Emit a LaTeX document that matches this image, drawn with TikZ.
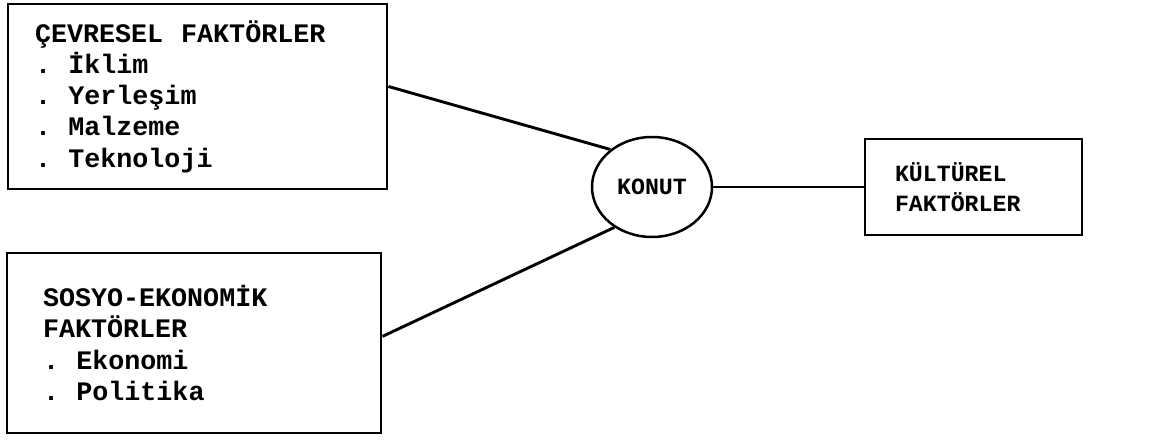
\documentclass[tikz,border=0pt]{standalone}
\usepackage{fontspec}
\newfontfamily\courier{Liberation Mono}
\newcommand\bigfont{\courier\bfseries\fontsize{19.3}{22.6}\selectfont}
\newcommand\smallfont{\courier\bfseries\fontsize{16.8}{21.6}\selectfont}
\newcommand\wide{\hspace{0.34em}}
\newcommand\itemgap{\hspace{0.15em}}
\usetikzlibrary{shapes.geometric}

\begin{document}
\begin{tikzpicture}[x=1in,y=1in,
  factorbox/.style={draw, line width=2.1pt, rectangle, align=left, inner ysep=0pt},
  bigtext/.style={font=\bigfont},
  smalltext/.style={font=\smallfont},
  link/.style={line width=2.1pt}]
\useasboundingbox (0.0000,0.0000) rectangle (11.5100,4.4200);
\node[factorbox, bigtext, text width=3.2500in, inner xsep=0.2700in, minimum height=1.8500in] (cevre) at (1.9750,3.4550)
  {ÇEVRESEL\wide{} FAKTÖRLER\\.\itemgap{} İklim\\.\itemgap{} Yerleşim\\.\itemgap{} Malzeme\\.\itemgap{} Teknoloji};
\node[factorbox, bigtext, text width=3.0200in, inner xsep=0.3600in, minimum height=1.8000in] (sosyo) at (1.9400,0.9900)
  {SOSYO-EKONOMİK\\FAKTÖRLER\\.\itemgap{} Ekonomi\\.\itemgap{} Politika\\[0.0600in]};
\node[draw, ellipse, line width=1.8pt, smalltext, inner sep=0pt, minimum width=1.2000in, minimum height=1.0000in] (konut) at (6.5200,2.5500) {KONUT};
\node[factorbox, smalltext, text width=1.5700in, inner xsep=0.3000in, minimum height=0.9600in] (kultur) at (9.7350,2.5500)
  {KÜLTÜREL\\FAKTÖRLER};
\draw[link] (cevre.3) -- (konut.138);
\draw[link] (sosyo.2) -- (konut.227);
\draw[link] (konut.east) -- (kultur.west);
\end{tikzpicture}
\end{document}
